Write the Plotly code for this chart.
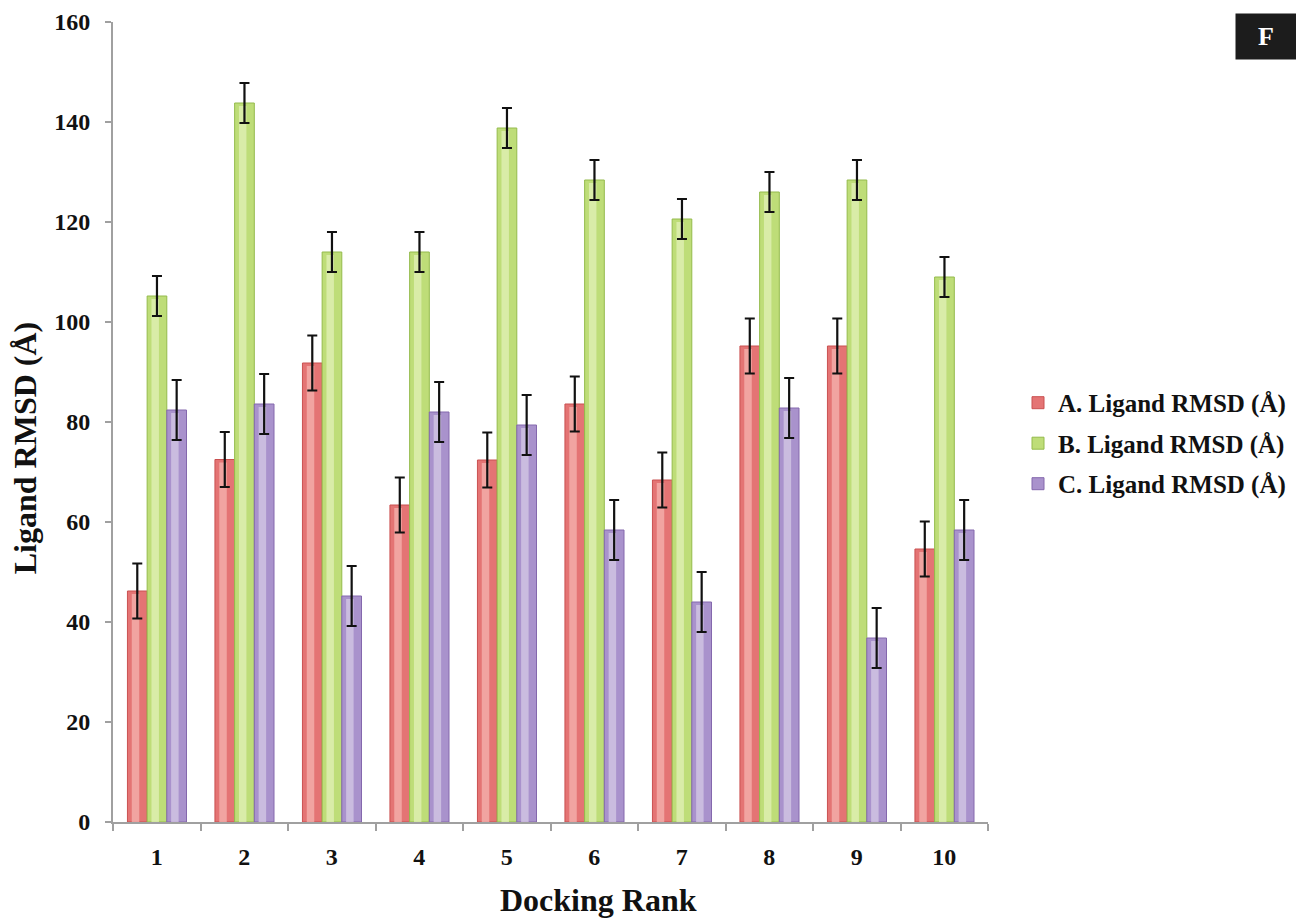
import plotly.graph_objects as go

# Docking ranks and ligand RMSD per system
ranks = ["1", "2", "3", "4", "5", "6", "7", "8", "9", "10"]
rmsd_a = [46.2, 72.5, 91.8, 63.4, 72.4, 83.6, 68.4, 95.2, 95.2, 54.6]
rmsd_b = [105.2, 143.8, 114.0, 114.0, 138.8, 128.4, 120.6, 126.0, 128.4, 109.0]
rmsd_c = [82.4, 83.6, 45.2, 82.0, 79.4, 58.4, 44.0, 82.8, 36.8, 58.4]
err_a = [5.5] * 10
err_b = [4.0] * 10
err_c = [6.0] * 10

series = [
    ("A. Ligand RMSD (Å)", rmsd_a, err_a, "#e47474", "#c95050", "#f6b4b0", -0.335),
    ("B. Ligand RMSD (Å)", rmsd_b, err_b, "#bedd78", "#94bb4c", "#e2f0b8", -0.11),
    ("C. Ligand RMSD (Å)", rmsd_c, err_c, "#a992cc", "#8468ad", "#d6c9e6", 0.115),
]

BAR_W = 0.225
FONT = "Liberation Serif, Times New Roman, serif"
INK = "#111111"

fig = go.Figure()
for name, vals, errs, fill, edge, light, off in series:
    fig.add_trace(go.Bar(
        x=ranks, y=vals, name=name, width=BAR_W, offset=off,
        legendgroup=name,
        marker=dict(color=fill, line=dict(color=edge, width=1)),
    ))
    # lighter sheen strip down each bar
    fig.add_trace(go.Bar(
        x=ranks, y=[v - 0.6 for v in vals], width=BAR_W * 0.38,
        offset=off + BAR_W * 0.22, showlegend=False, hoverinfo="skip",
        legendgroup=name,
        marker=dict(color=light, opacity=0.75, line=dict(width=0)),
    ))

# error bars drawn on top, centred on each bar
for name, vals, errs, fill, edge, light, off in series:
    fig.add_trace(go.Scatter(
        x=[j + off + BAR_W / 2 for j in range(len(ranks))], y=vals,
        mode="markers", showlegend=False, hoverinfo="skip",
        legendgroup=name,
        marker=dict(size=1, color="rgba(0,0,0,0)"),
        error_y=dict(type="data", array=errs, visible=True,
                     color=INK, thickness=2.2, width=5),
        xaxis="x2",
    ))

fig.update_layout(
    barmode="overlay",
    width=1296, height=920,
    margin=dict(l=113, r=308, t=22, b=98, autoexpand=False),
    paper_bgcolor="white", plot_bgcolor="white",
    font=dict(family=FONT, size=24, color=INK),
    showlegend=True,
    legend=dict(xref="container", yref="container",
                x=0.7855, y=0.518, xanchor="left", yanchor="middle",
                font=dict(family=FONT, size=25, color=INK, weight="bold"),
                tracegroupgap=5, bgcolor="rgba(0,0,0,0)"),
    xaxis=dict(
        type="category", categoryorder="array", categoryarray=ranks,
        range=[-0.5, 9.5], automargin=False,
        showline=True, linecolor="#a0a0a0", linewidth=2,
        ticks="outside", tickson="boundaries", ticklen=7, tickwidth=2,
        tickcolor="#a0a0a0", showgrid=False, zeroline=False,
        ticklabelstandoff=12,
        tickfont=dict(family=FONT, size=24, color=INK, weight="bold"),
    ),
    xaxis2=dict(type="linear", range=[-0.5, 9.5], overlaying="x", visible=False),
    yaxis=dict(
        range=[0, 160], dtick=20, automargin=False,
        showline=True, linecolor="#a0a0a0", linewidth=2,
        ticks="outside", ticklen=6, tickwidth=2, tickcolor="#a0a0a0",
        showgrid=False, zeroline=False,
        ticklabelstandoff=10,
        tickfont=dict(family=FONT, size=24, color=INK, weight="bold"),
    ),
)

# axis titles
fig.add_annotation(text="Docking Rank", xref="paper", yref="paper",
                   x=0.555, y=-0.0975, xanchor="center", yanchor="middle",
                   showarrow=False,
                   font=dict(family=FONT, size=32, color=INK, weight="bold"))
fig.add_annotation(text="Ligand RMSD (Å)", xref="paper", yref="paper",
                   x=-0.1003, y=0.4675, xanchor="center", yanchor="middle",
                   textangle=-90, showarrow=False,
                   font=dict(family=FONT, size=32, color=INK, weight="bold"))

# panel letter in the upper right corner
fig.add_annotation(text="<b>F</b>", xref="paper", yref="paper",
                   x=1.3175, y=0.9819, xanchor="center", yanchor="middle",
                   width=60, height=45, bgcolor="#1c1c1c", borderpad=0,
                   showarrow=False,
                   font=dict(family=FONT, size=26, color="white"))

fig.write_html("out.html")
